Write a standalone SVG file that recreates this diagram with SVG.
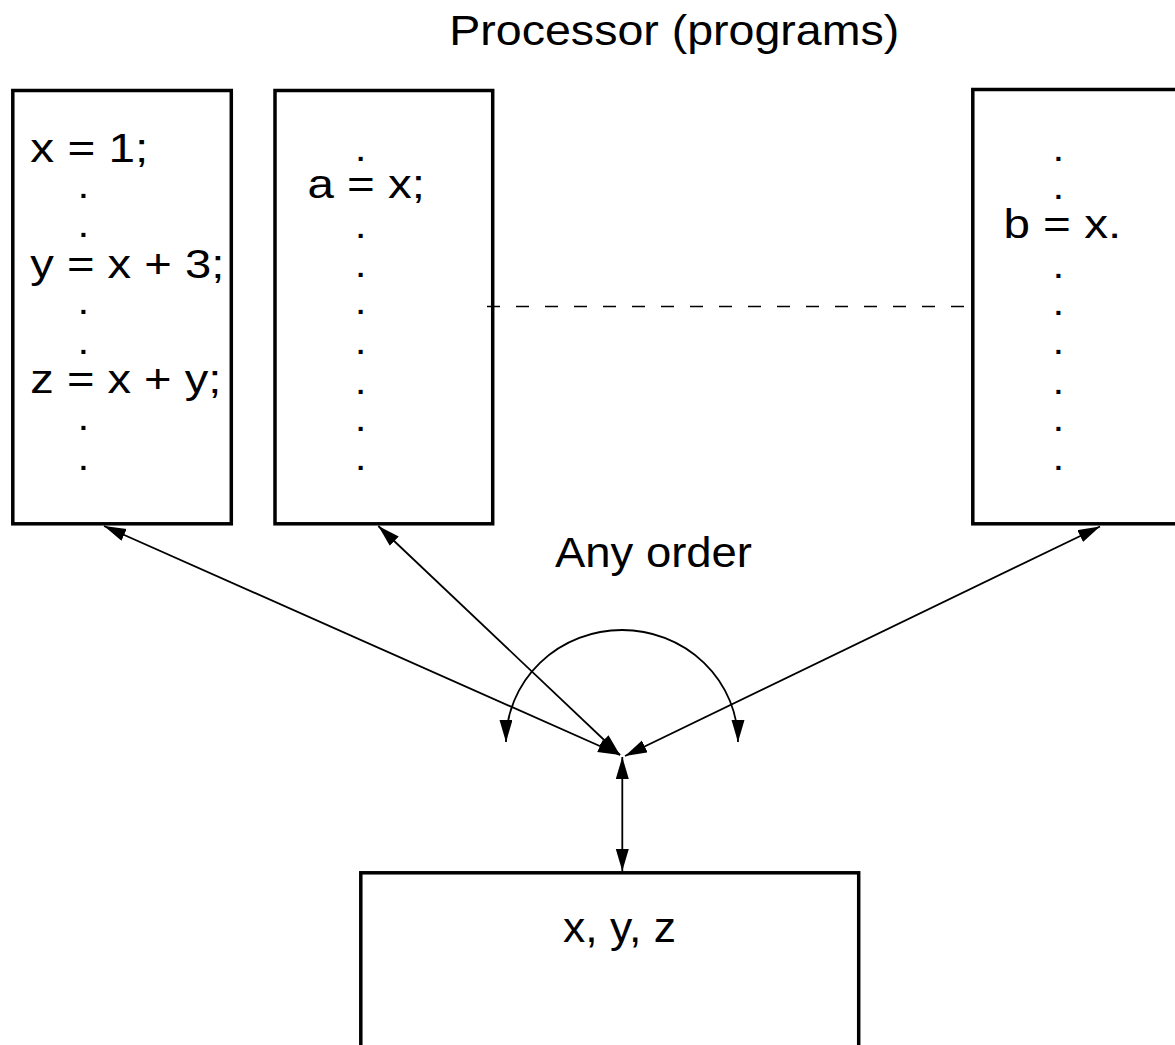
<svg xmlns="http://www.w3.org/2000/svg" width="1175" height="1045" viewBox="0 0 1175 1045">
<style>
.box{fill:#fff;stroke:#000;stroke-width:3.5}
.t{font-family:"Liberation Sans",Arial,sans-serif;fill:#000}
.c{font-size:41px}
.h{font-size:42px}
.d{font-family:"Liberation Sans",Arial,sans-serif;font-size:28px;font-weight:bold;text-anchor:middle;fill:#000}
.ln{fill:none;stroke:#000;stroke-width:1.8}
</style>
<defs>
<marker id="ah" markerUnits="userSpaceOnUse" markerWidth="24" markerHeight="14" refX="22" refY="6.5" orient="auto-start-reverse" viewBox="0 0 24 14">
<path d="M0,0 L22,6.5 L0,13 z" fill="#000"/>
</marker>
</defs>
<rect width="1175" height="1045" fill="#fff"/>
<text class="t h" x="449.3" y="45" textLength="450" lengthAdjust="spacingAndGlyphs">Processor (programs)</text>
<g id="p1">
<rect class="box" x="12.8" y="90.5" width="218.5" height="433.3"/>
<text class="t c" x="30.3" y="162" textLength="118" lengthAdjust="spacingAndGlyphs">x = 1;</text>
<text class="t c" x="30.3" y="277.5" textLength="194" lengthAdjust="spacingAndGlyphs">y = x + 3;</text>
<text class="t c" x="30.3" y="393" textLength="191" lengthAdjust="spacingAndGlyphs">z = x + y;</text>
<text class="d" x="83.3" y="198">.</text>
<text class="d" x="83.3" y="237">.</text>
<text class="d" x="83.3" y="314.3">.</text>
<text class="d" x="83.3" y="354.3">.</text>
<text class="d" x="83.3" y="430.3">.</text>
<text class="d" x="83.3" y="469.7">.</text>
</g>
<g id="p2">
<rect class="box" x="275" y="90.5" width="217.7" height="433.3"/>
<text class="t c" x="307.4" y="198" textLength="117.5" lengthAdjust="spacingAndGlyphs">a = x;</text>
<text class="d" x="360.7" y="161">.</text>
<text class="d" x="360.7" y="237.7">.</text>
<text class="d" x="360.7" y="277">.</text>
<text class="d" x="360.7" y="314.3">.</text>
<text class="d" x="360.7" y="354.3">.</text>
<text class="d" x="360.7" y="393.7">.</text>
<text class="d" x="360.7" y="431">.</text>
<text class="d" x="360.7" y="469.7">.</text>
</g>
<g id="pn">
<rect class="box" x="972.8" y="89.5" width="220" height="434.3"/>
<text class="t c" x="1003.4" y="238" textLength="117.8" lengthAdjust="spacingAndGlyphs">b = x.</text>
<text class="d" x="1058.3" y="161.3">.</text>
<text class="d" x="1058.3" y="198.7">.</text>
<text class="d" x="1058.3" y="278">.</text>
<text class="d" x="1058.3" y="314.7">.</text>
<text class="d" x="1058.3" y="354.3">.</text>
<text class="d" x="1058.3" y="393.7">.</text>
<text class="d" x="1058.3" y="431">.</text>
<text class="d" x="1058.3" y="470.3">.</text>
</g>
<g id="mem">
<rect class="box" x="360.8" y="872.8" width="497.9" height="200"/>
<text class="t h" x="563" y="942" textLength="113" lengthAdjust="spacingAndGlyphs">x, y, z</text>
</g>
<g id="label">
<text class="t h" x="555" y="567" textLength="197" lengthAdjust="spacingAndGlyphs">Any order</text>
</g>
<g id="connectors">
<line x1="487" y1="306.5" x2="972" y2="306.5" stroke="#000" stroke-width="1.6" stroke-dasharray="13 16"/>
<line class="ln" x1="620" y1="755" x2="104" y2="526" marker-start="url(#ah)" marker-end="url(#ah)"/>
<line class="ln" x1="620" y1="755" x2="378.3" y2="526" marker-start="url(#ah)" marker-end="url(#ah)"/>
<line class="ln" x1="625" y1="756" x2="1100" y2="526.5" marker-start="url(#ah)" marker-end="url(#ah)"/>
<line class="ln" x1="622.3" y1="757" x2="622.3" y2="871" marker-start="url(#ah)" marker-end="url(#ah)"/>
<path class="ln" d="M 506 742 A 116 112 0 1 1 738 742" marker-start="url(#ah)" marker-end="url(#ah)"/>
</g>
</svg>
